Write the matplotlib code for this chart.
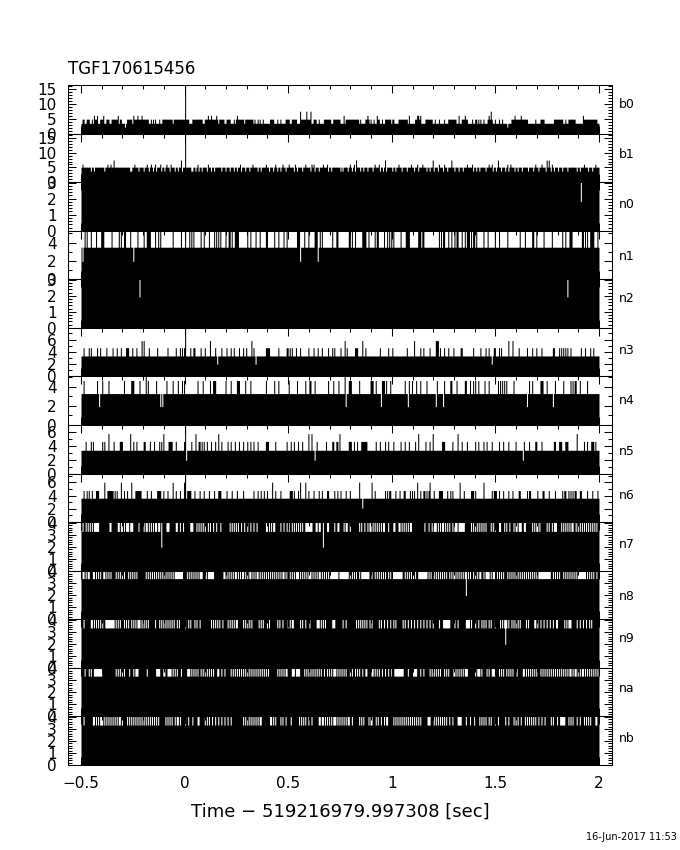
"""Light curves per detector around the trigger, one stacked panel per detector."""

import matplotlib

matplotlib.use("Agg")

import matplotlib.pyplot as plt
import numpy as np
from matplotlib.ticker import MultipleLocator

plt.rcParams["font.family"] = ["DejaVu Sans"]

# 500 bins of 5 ms from -0.5 to 2 s; the lists below are bin numbers
bin_edges = np.linspace(-0.5, 2.0, 501)
detectors = ["b0", "b1", "n0", "n1", "n2", "n3", "n4", "n5", "n6", "n7", "n8", "n9", "na", "nb"]
peak_bin = [100]

b0_up_runs = [(1, 2), (5, 6), (7, 7), (10, 10), (12, 14), (18, 21), (24, 26), (29, 35), (37, 38), (44, 48),
              (50, 57), (58, 64), (67, 67), (69, 69), (71, 71), (75, 75), (78, 82), (83, 87), (89, 103),
              (107, 108), (109, 116), (119, 120), (121, 131), (133, 137), (140, 143), (147, 147), (149, 151),
              (152, 156), (158, 165), (167, 167), (170, 170), (172, 172), (175, 175), (182, 185), (189, 189),
              (192, 192), (197, 200), (203, 207), (211, 221), (224, 226), (229, 229), (234, 240), (243, 249),
              (255, 267), (269, 269), (274, 277), (279, 279), (282, 282), (285, 287), (290, 290), (293, 298),
              (300, 301), (306, 314), (316, 316), (322, 327), (332, 338), (341, 341), (345, 345), (350, 350),
              (354, 361), (364, 364), (367, 372), (377, 377), (380, 381), (383, 383), (385, 385), (388, 388),
              (392, 396), (399, 399), (403, 403), (406, 406), (415, 423), (425, 430), (438, 438), (443, 446),
              (456, 464), (467, 467), (470, 476), (485, 497)]
b0_spikes = [12, 15, 21, 35, 50, 54, 58, 122, 125, 130, 150, 253, 276, 285, 316, 324, 325, 327, 364, 370, 393,
             418, 424, 484]
b0_high = [211, 217, 221, 395]
b0_dips = [42, 411]

b1_low = [9, 12, 22, 47, 48, 55, 60, 65, 69, 72, 77, 80, 85, 90, 93, 97, 106, 107, 110, 113, 116, 121, 125, 128,
          135, 139, 143, 147, 150, 154, 158, 162, 165, 170, 173, 178, 181, 185, 189, 192, 197, 200, 205, 208,
          213, 216, 221, 225, 229, 233, 238, 241, 250, 252, 257, 261, 264, 269, 272, 276, 281, 283, 288, 291,
          294, 300, 303, 306, 309, 314, 318, 321, 325, 329, 333, 336, 340, 344, 349, 353, 357, 360, 364, 368,
          372, 378, 381, 384, 390, 397, 400, 405, 409, 412, 418, 421, 425, 431, 436, 441, 444, 448, 453, 456,
          460, 464, 469, 478, 481, 485, 489, 493]
b1_spikes = [1, 25, 28, 51, 63, 67, 71, 76, 82, 86, 112, 122, 153, 165, 178, 187, 194, 200, 206, 216, 222, 224,
             233, 237, 259, 263, 283, 287, 306, 318, 324, 329, 345, 350, 372, 377, 393, 396, 411, 414, 438, 444,
             454, 485, 496]
b1_high = [31, 96, 265, 293, 339, 357, 402, 449, 451]

n0_dips = [482]
n2_dips = [56, 469]

n1_up = [3, 5, 9, 14, 19, 20, 21, 29, 36, 38, 41, 42, 47, 50, 54, 60, 63, 64, 65, 66, 71, 74, 76, 88, 96, 100,
         104, 106, 108, 115, 118, 123, 128, 130, 132, 134, 139, 142, 143, 145, 148, 149, 150, 151, 160, 163, 168,
         172, 178, 179, 186, 190, 195, 198, 208, 209, 210, 211, 215, 219, 225, 226, 227, 230, 232, 242, 246, 247,
         258, 259, 261, 264, 271, 272, 273, 274, 277, 283, 285, 286, 292, 295, 297, 299, 301, 308, 313, 314, 315,
         316, 325, 326, 327, 329, 330, 345, 347, 349, 350, 354, 357, 360, 362, 363, 367, 370, 372, 373, 374, 376,
         378, 379, 381, 388, 392, 399, 403, 411, 423, 428, 435, 436, 439, 446, 454, 464, 467, 471, 472, 473, 483,
         484, 486, 488, 491, 492, 493, 494, 498]
n1_dips = [1, 50, 211, 228]

n3_up = [2, 7, 9, 15, 18, 24, 30, 34, 38, 43, 44, 45, 49, 53, 65, 73, 83, 91, 95, 97, 99, 105, 108, 109, 115, 119,
         129, 135, 140, 144, 147, 152, 156, 159, 166, 178, 179, 180, 181, 190, 198, 199, 201, 203, 207, 211, 219,
         224, 228, 232, 238, 242, 244, 250, 256, 264, 265, 266, 274, 288, 296, 300, 314, 327, 330, 336, 346, 350,
         354, 359, 366, 367, 378, 385, 390, 393, 396, 398, 399, 403, 405, 422, 430, 435, 439, 444, 455, 456, 461,
         463, 465, 467, 469, 472, 482, 486, 491, 494]
n3_spikes = [58, 60, 124, 164, 254, 271, 321, 342, 343, 344, 412, 416]
n3_dips = [131, 168, 396]

n4_up = [2, 15, 20, 26, 41, 48, 49, 50, 56, 64, 72, 82, 88, 93, 97, 99, 112, 117, 124, 127, 128, 129, 139, 144,
         150, 151, 152, 158, 163, 178, 186, 190, 200, 208, 216, 220, 221, 225, 238, 243, 248, 258, 259, 260, 268,
         279, 280, 281, 284, 290, 291, 292, 294, 298, 312, 316, 319, 323, 327, 333, 343, 350, 356, 357, 362, 370,
         371, 375, 378, 380, 383, 389, 393, 402, 404, 406, 408, 410, 417, 432, 435, 443, 444, 445, 449, 457, 465,
         472, 474, 476, 477, 481, 488]
n4_spikes = [62, 254]
n4_dips = [17, 76, 78, 255, 289, 315, 342, 349, 430, 455]

n5_up = [4, 9, 11, 20, 22, 31, 37, 38, 39, 50, 53, 60, 61, 66, 70, 75, 77, 84, 85, 86, 87, 91, 99, 106, 113, 114,
         116, 118, 121, 125, 129, 135, 141, 144, 148, 152, 156, 160, 163, 166, 170, 178, 179, 180, 187, 198, 202,
         205, 209, 213, 227, 236, 242, 243, 246, 247, 258, 259, 260, 263, 266, 270, 271, 272, 273, 274, 275, 284,
         288, 293, 296, 301, 308, 312, 316, 322, 332, 336, 348, 349, 350, 358, 367, 372, 380, 383, 388, 391, 396,
         403, 407, 412, 419, 427, 432, 438, 439, 444, 456, 457, 461, 462, 463, 467, 468, 469, 485, 488, 492, 493,
         494, 496]
n5_spikes = [26, 47, 79, 110, 132, 219, 222, 249, 325, 339, 363, 478]
n5_dips = [101, 225, 426]

n6_up = [2, 5, 7, 10, 14, 15, 16, 25, 26, 27, 28, 29, 30, 32, 34, 41, 44, 52, 53, 54, 55, 56, 57, 63, 67, 73, 74,
         75, 76, 79, 83, 91, 95, 102, 103, 104, 105, 109, 114, 118, 123, 128, 132, 133, 134, 140, 145, 150, 156,
         166, 170, 173, 176, 179, 187, 192, 201, 202, 203, 205, 209, 219, 224, 229, 232, 237, 238, 244, 247, 250,
         255, 259, 283, 293, 295, 297, 298, 303, 307, 311, 312, 317, 319, 321, 327, 330, 331, 333, 335, 340, 345,
         346, 347, 348, 353, 356, 358, 369, 376, 377, 378, 380, 396, 398, 399, 400, 403, 407, 412, 416, 422, 423,
         430, 432, 433, 440, 445, 446, 451, 457, 464, 466, 467, 470, 472, 474, 476, 477, 481, 482, 488, 493, 498]
n6_spikes = [22, 38, 48, 88, 99, 184, 211, 216, 268, 280, 324, 336, 365, 388]
n6_dips = [271]

n7_gaps = [1, 4, 6, 8, 10, 12, 13, 14, 15, 16, 27, 28, 35, 36, 38, 39, 41, 43, 44, 45, 47, 48, 49, 55, 60, 62, 63,
           65, 67, 69, 71, 72, 74, 75, 82, 83, 84, 91, 92, 95, 98, 105, 106, 107, 111, 113, 115, 117, 119, 122,
           124, 127, 130, 134, 143, 145, 147, 149, 151, 154, 157, 160, 163, 166, 169, 178, 179, 181, 183, 185,
           186, 192, 195, 198, 200, 203, 205, 207, 209, 211, 213, 216, 217, 218, 219, 220, 221, 222, 226, 227,
           229, 230, 237, 238, 244, 247, 248, 253, 255, 256, 259, 268, 270, 273, 276, 278, 279, 281, 283, 285,
           287, 289, 291, 292, 296, 301, 302, 306, 307, 309, 311, 313, 315, 317, 318, 331, 335, 338, 340, 341,
           342, 344, 346, 348, 349, 351, 353, 355, 358, 360, 361, 362, 364, 365, 366, 367, 368, 369, 376, 378,
           380, 382, 384, 386, 388, 390, 395, 397, 399, 403, 404, 408, 410, 413, 417, 419, 420, 422, 423, 424,
           427, 428, 435, 437, 439, 440, 442, 449, 451, 454, 456, 457, 458, 463, 465, 467, 469, 471, 473, 474,
           477, 479, 481, 483, 485, 487, 489, 491, 493, 495, 497]
n7_dips = [77, 233]

n8_gaps = [1, 2, 4, 6, 7, 11, 12, 14, 16, 18, 21, 22, 24, 26, 28, 33, 35, 37, 39, 41, 45, 47, 49, 51, 53, 62, 64,
           66, 68, 70, 72, 74, 76, 78, 80, 82, 84, 86, 88, 90, 91, 92, 93, 94, 95, 96, 97, 100, 102, 104, 106, 108,
           110, 112, 114, 115, 116, 120, 122, 123, 124, 125, 126, 127, 137, 138, 140, 142, 144, 146, 148, 149,
           151, 153, 155, 156, 158, 160, 162, 163, 165, 167, 169, 170, 172, 174, 176, 178, 180, 182, 184, 186,
           188, 190, 192, 194, 195, 197, 199, 201, 203, 205, 207, 208, 209, 211, 213, 215, 217, 219, 220, 221,
           223, 225, 227, 229, 230, 232, 234, 236, 238, 240, 241, 242, 243, 244, 245, 246, 247, 249, 250, 251,
           252, 253, 254, 255, 256, 257, 259, 261, 263, 265, 268, 270, 271, 272, 273, 274, 275, 276, 277, 280,
           283, 285, 287, 289, 291, 293, 296, 298, 300, 301, 302, 303, 304, 305, 306, 307, 308, 309, 312, 314,
           316, 318, 320, 322, 325, 326, 327, 328, 329, 330, 331, 332, 333, 335, 337, 340, 342, 344, 346, 348,
           350, 352, 355, 357, 359, 360, 362, 364, 366, 368, 370, 373, 375, 378, 380, 382, 384, 385, 388, 390,
           391, 392, 393, 395, 397, 398, 399, 401, 403, 405, 407, 411, 413, 415, 417, 419, 421, 423, 425, 427,
           429, 431, 433, 435, 437, 439, 441, 442, 443, 444, 445, 446, 447, 448, 449, 450, 451, 452, 455, 457,
           459, 461, 465, 467, 469, 471, 473, 475, 477, 479, 480, 481, 482, 483, 484, 485, 486, 488, 490, 492,
           494, 497]
n8_dips = [371]

n9_gaps = [2, 9, 10, 12, 14, 16, 18, 20, 23, 24, 25, 26, 27, 28, 29, 30, 31, 33, 35, 37, 41, 43, 45, 48, 50, 52, 54,
           55, 56, 58, 60, 62, 64, 71, 75, 77, 79, 81, 83, 85, 87, 89, 92, 94, 100, 103, 105, 109, 111, 114, 125,
           127, 129, 131, 133, 136, 141, 143, 145, 147, 149, 150, 156, 158, 160, 162, 164, 171, 173, 175, 179, 181,
           189, 191, 194, 199, 201, 203, 204, 211, 213, 216, 220, 227, 228, 229, 231, 233, 235, 242, 243, 244, 252,
           255, 265, 267, 269, 271, 273, 275, 278, 280, 287, 289, 292, 295, 298, 301, 303, 310, 312, 315, 318, 321,
           324, 327, 330, 333, 336, 339, 345, 349, 350, 351, 352, 353, 354, 355, 360, 363, 371, 372, 373, 374, 376,
           380, 383, 386, 388, 390, 393, 395, 399, 404, 406, 408, 410, 412, 415, 417, 419, 421, 423, 429, 431, 437,
           438, 440, 443, 446, 449, 452, 455, 458, 459, 466, 468, 470, 471, 472, 478, 481, 484, 487, 490, 492]
n9_dips = [409]

na_gaps = [3, 7, 9, 12, 13, 14, 15, 16, 17, 18, 19, 33, 35, 37, 39, 41, 46, 50, 52, 53, 54, 63, 72, 73, 74, 75, 79,
           80, 83, 84, 85, 86, 88, 90, 92, 96, 102, 103, 104, 106, 108, 110, 112, 115, 117, 119, 121, 123, 125, 127,
           131, 132, 135, 138, 144, 146, 148, 150, 152, 154, 156, 158, 160, 162, 164, 166, 168, 170, 172, 174, 176,
           178, 180, 189, 191, 193, 195, 197, 198, 203, 204, 205, 207, 208, 209, 210, 215, 217, 219, 221, 223, 225,
           227, 229, 231, 234, 237, 239, 241, 243, 244, 245, 247, 249, 251, 253, 255, 259, 261, 264, 266, 268, 271,
           274, 275, 280, 281, 283, 285, 287, 290, 293, 296, 299, 302, 303, 304, 305, 306, 307, 308, 309, 310, 315,
           320, 321, 322, 323, 327, 330, 336, 338, 340, 342, 344, 346, 350, 352, 354, 359, 360, 362, 364, 366, 368,
           370, 371, 372, 380, 382, 383, 384, 386, 391, 393, 396, 397, 398, 399, 403, 405, 407, 410, 412, 414, 416,
           420, 426, 427, 429, 431, 433, 435, 437, 439, 443, 445, 447, 449, 451, 453, 455, 457, 459, 461, 463, 465,
           467, 469, 471, 472, 474, 476, 477, 479, 481, 483, 484, 486, 488, 490, 492, 494, 496, 498]

nb_gaps = [2, 11, 12, 14, 16, 18, 19, 20, 22, 24, 26, 28, 30, 32, 34, 36, 37, 39, 44, 46, 48, 50, 52, 54, 56, 58,
           60, 62, 64, 66, 68, 70, 72, 74, 81, 83, 85, 87, 90, 92, 93, 95, 100, 103, 107, 112, 113, 119, 121, 123,
           126, 129, 132, 135, 138, 141, 144, 156, 158, 160, 162, 164, 166, 168, 170, 172, 173, 182, 183, 185, 187,
           192, 194, 197, 202, 210, 212, 214, 216, 219, 222, 229, 230, 232, 233, 235, 237, 239, 241, 243, 244, 245,
           247, 249, 251, 253, 255, 257, 258, 261, 268, 270, 272, 277, 279, 280, 284, 286, 289, 292, 294, 295, 301,
           303, 305, 307, 309, 311, 313, 315, 317, 319, 321, 323, 325, 327, 334, 335, 336, 340, 342, 344, 346, 348,
           350, 352, 355, 358, 363, 364, 365, 366, 371, 375, 379, 384, 386, 388, 390, 393, 395, 399, 402, 409, 412,
           417, 419, 421, 424, 428, 430, 432, 434, 436, 438, 441, 444, 447, 453, 455, 459, 462, 463, 464, 465, 466,
           470, 472, 474, 478, 481, 485, 487, 489, 491, 496, 497]


def counts_from(base, levels):
    """Start every bin at the base rate, then set the listed bins to their level."""
    counts = np.full(500, base, dtype=float)
    for value, bins in levels:
        counts[bins] = value
    return counts


def expand(runs):
    return [b for start, end in runs for b in range(start, end + 1)]


series = [
    counts_from(3.5, [(4.9, expand(b0_up_runs)), (6.2, b0_spikes), (7.6, b0_high), (2.2, b0_dips), (17, peak_bin)]),
    counts_from(5.1, [(3.75, b1_low), (6.1, b1_spikes), (7.5, b1_high), (17, peak_bin)]),
    counts_from(4.0, [(1.83, n0_dips)]),
    counts_from(3.5, [(5.4, n1_up), (1.96, n1_dips)]),
    counts_from(4.0, [(1.93, n2_dips)]),
    counts_from(3.33, [(4.67, n3_up), (5.83, n3_spikes), (2.0, n3_dips), (8.5, peak_bin)]),
    counts_from(3.3, [(4.67, n4_up), (5.2, n4_spikes), (1.93, n4_dips)]),
    counts_from(3.33, [(4.6, n5_up), (5.7, n5_spikes), (1.9, n5_dips), (7.5, peak_bin)]),
    counts_from(3.6, [(4.75, n6_up), (6.0, n6_spikes), (2.1, n6_dips), (7.5, peak_bin)]),
    counts_from(4.8, [(3.28, n7_gaps), (1.97, n7_dips)]),
    counts_from(4.8, [(3.39, n8_gaps), (1.97, n8_dips)]),
    counts_from(4.8, [(3.33, n9_gaps), (1.97, n9_dips)]),
    counts_from(4.8, [(3.36, na_gaps)]),
    counts_from(4.8, [(3.33, nb_gaps)]),
]

y_tops = [16.5, 16.5, 3.03, 5.3, 3.03, 7.9, 5.1, 6.94, 7.3, 4.05, 4.05, 4.05, 4.05, 4.05]
y_majors = [5, 5, 1, 2, 1, 2, 2, 2, 2, 1, 1, 1, 1, 1]
y_minors = [1, 1, 0.2, 1, 0.2, 1, 1, 1, 1, 0.2, 0.2, 0.2, 0.2, 0.2]
label_rows = [104, 155, 205, 257, 299, 351, 401, 451, 495, 545, 596, 639, 689, 739]

fig, axes = plt.subplots(14, 1, figsize=(6.8, 8.5), sharex=True)
fig.subplots_adjust(left=68 / 680, right=612 / 680, top=1 - 85 / 850, bottom=1 - 765 / 850, hspace=0)

for i, ax in enumerate(axes):
    ax.fill_between(bin_edges, np.append(series[i], series[i][-1]), step="post", color="black", lw=0,
                    antialiased=False)
    ax.set_xlim(-0.5627, 2.0628)
    ax.set_ylim(0, y_tops[i])
    ax.xaxis.set_major_locator(MultipleLocator(0.5))
    ax.xaxis.set_minor_locator(MultipleLocator(0.1))
    ax.yaxis.set_major_locator(MultipleLocator(y_majors[i]))
    ax.yaxis.set_minor_locator(MultipleLocator(y_minors[i]))
    ax.tick_params(which="major", direction="in", top=True, right=True, length=5.8, width=0.75)
    ax.tick_params(which="minor", direction="in", top=True, right=True, length=2.9, width=0.75)
    ax.tick_params(axis="y", which="major", pad=8, labelsize=11)
    for side in ax.spines.values():
        side.set_linewidth(0.75)
    fig.text(619 / 680, 1 - label_rows[i] / 850, detectors[i], fontsize=9, va="center", ha="left")

axes[-1].tick_params(axis="x", which="major", pad=8, labelsize=11)
axes[-1].set_xticks([-0.5, 0, 0.5, 1, 1.5, 2], ["\u22120.5", "0", "0.5", "1", "1.5", "2"])

fig.text(68 / 680, 1 - 69 / 850, "TGF170615456", fontsize=12, va="center", ha="left")
fig.text(340 / 680, 1 - 812 / 850, "Time \u2212 519216979.997308 [sec]", fontsize=13, va="center", ha="center")
fig.text(677 / 680, 1 - 837 / 850, "16-Jun-2017 11:53", fontsize=7, va="center", ha="right")

fig.savefig("out.png", dpi=100)
plt.close(fig)
